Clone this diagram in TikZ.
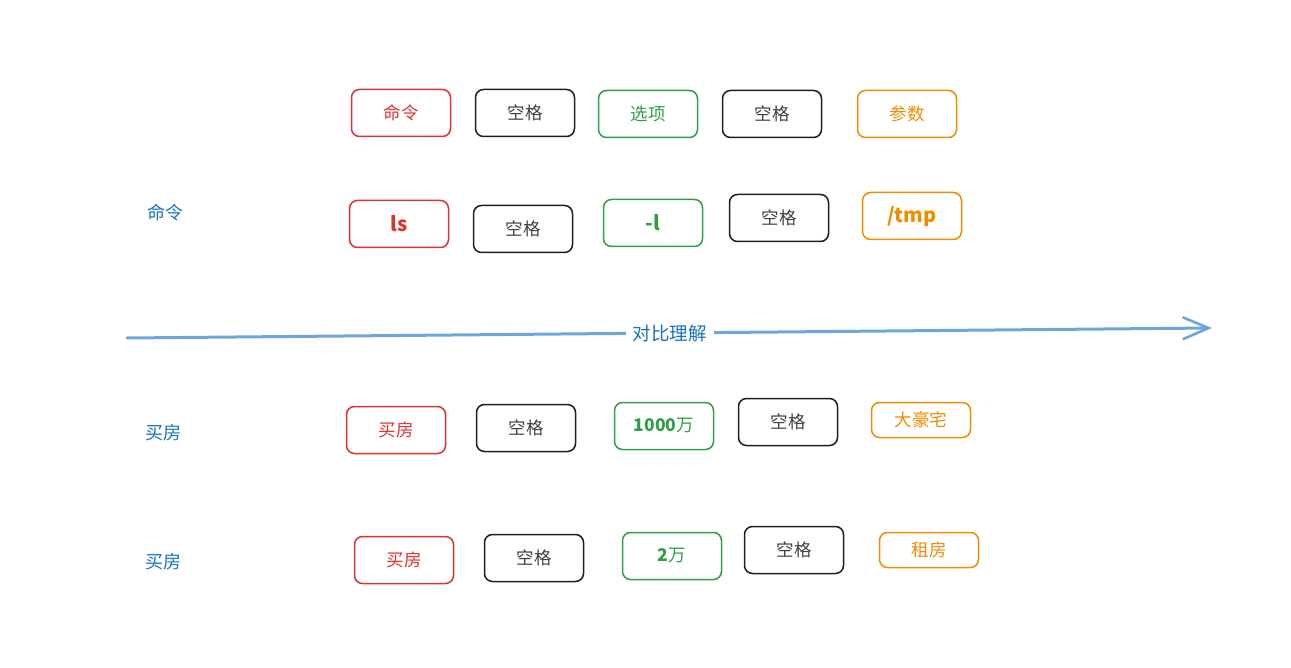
\documentclass[tikz,border=0pt]{standalone}
\usepackage{fontspec}
\setmainfont{Noto Sans CJK SC}
\usepackage{tikz}
\usetikzlibrary{positioning,arrows.meta}
\definecolor{cmdred}{RGB}{224,49,49}
\definecolor{spcblack}{RGB}{30,30,30}
\definecolor{optgreen}{RGB}{47,158,68}
\definecolor{argorange}{RGB}{240,140,0}
\definecolor{lblblue}{RGB}{25,113,194}
\definecolor{lineblue}{RGB}{110,165,218}
\tikzset{
  wordbox/.style={draw,rounded corners=8pt,line width=1.5pt,minimum width=99pt,
    minimum height=47pt,inner sep=2pt,font=\fontsize{17.5}{19}\selectfont},
  cmdbox/.style={wordbox,draw=cmdred,text=cmdred},
  spcbox/.style={wordbox,draw=spcblack,text=spcblack!85},
  optbox/.style={wordbox,draw=optgreen,text=optgreen},
  argbox/.style={wordbox,draw=argorange,text=argorange},
  rowlbl/.style={text=lblblue,font=\fontsize{18}{20}\selectfont},
  cmpline/.style={draw=lineblue,line width=3pt,line cap=round,
    -{Straight Barb[length=26pt,width=22pt,line width=2.6pt]}},
  cmplbl/.style={fill=white,text=lblblue,inner sep=7pt,font=\fontsize{18.5}{20}\selectfont},
}
\begin{document}
\begin{tikzpicture}[x=1pt,y=-1pt]
  \useasboundingbox (0,0) rectangle (1291,668);
  % syntax row
  \node[cmdbox] (synCmd) at (401,113) {命令};
  \node[spcbox] (synSp1) at (525,113) {空格};
  \node[optbox] (synOpt) at (648,114) {选项};
  \node[spcbox] (synSp2) at (772,114) {空格};
  \node[argbox] (synArg) at (907,114) {参数};
  % ls example
  \node[rowlbl] (lsLbl) at (165,213) {命令};
  \node[cmdbox,font=\fontsize{20}{22}\selectfont\bfseries] (lsCmd) at (399,224) {ls};
  \node[spcbox] (lsSp1) at (523,229) {空格};
  \node[optbox,font=\fontsize{20}{22}\selectfont\bfseries] (lsOpt) at (653,223) {-l};
  \node[spcbox] (lsSp2) at (779,218) {空格};
  \node[argbox,font=\fontsize{20}{22}\selectfont\bfseries] (lsArg) at (912,216) {/tmp};
  % divider
  \coordinate (cmpL) at (127,338);
  \coordinate (cmpR) at (1212,328);
  \draw[cmpline] (cmpL) -- node[cmplbl] (cmpTxt) {对比理解} (cmpR);
  % rich buyer
  \node[rowlbl] (richLbl) at (163,433) {买房};
  \node[cmdbox] (richCmd) at (396,430) {买房};
  \node[spcbox] (richSp1) at (526,428) {空格};
  \node[optbox] (richOpt) at (664,426) {\textbf{1000}万};
  \node[spcbox] (richSp2) at (788,422) {空格};
  \node[argbox,minimum height=35pt] (richArg) at (921,420) {大豪宅};
  % poor buyer
  \node[rowlbl] (poorLbl) at (163,562) {买房};
  \node[cmdbox] (poorCmd) at (404,560) {买房};
  \node[spcbox] (poorSp1) at (534,558) {空格};
  \node[optbox] (poorOpt) at (672,556) {\textbf{2}万};
  \node[spcbox] (poorSp2) at (794,550) {空格};
  \node[argbox,minimum height=35pt] (poorArg) at (929,550) {租房};
\end{tikzpicture}
\end{document}
